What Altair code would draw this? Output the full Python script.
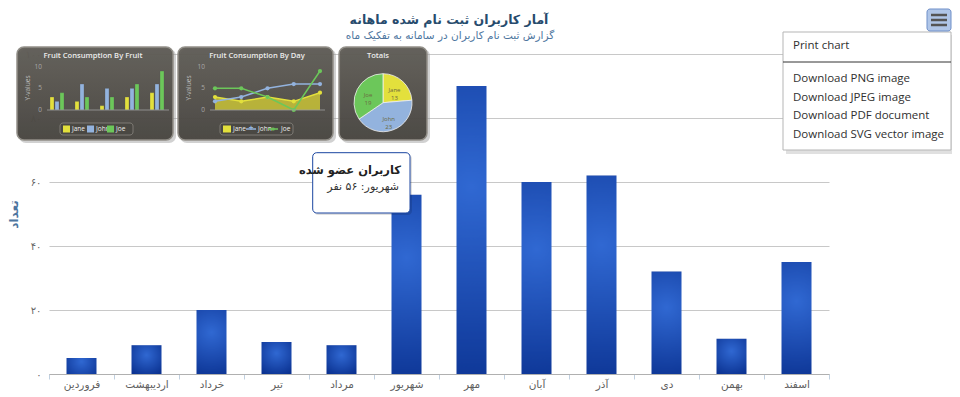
import altair as alt
import pandas as pd

# ---------------- data ----------------
months = ["فروردین", "اردیبهشت", "خرداد", "تیر", "مرداد", "شهریور",
          "مهر", "آبان", "آذر", "دی", "بهمن", "اسفند"]
counts = [5, 9, 20, 10, 9, 56, 90, 60, 62, 32, 11, 35]
y_ticks = [0, 20, 40, 60, 80, 100]
y_tick_labels = ["۰", "۲۰", "۴۰", "۶۰", "۸۰", "۱۰۰"]

title_text = "آمار کاربران ثبت نام شده ماهانه"
subtitle_text = "گزارش ثبت نام کاربران در سامانه به تفکیک ماه"
y_title = "تعداد"
tooltip_title = "کاربران عضو شده"
tooltip_unit = "نفر"
hover_index = 5
menu_items = ["Print chart", "Download PNG image", "Download JPEG image",
              "Download PDF document", "Download SVG vector image"]

# background picture (small fruit charts)
people = ["Jane", "John", "Joe"]
fruits = ["Apples", "Oranges", "Pears", "Bananas", "Plums"]
jane_fruit = [3, 2, 1, 3, 4]
john_fruit = [2, 6, 5, 5, 6]
joe_fruit = [4, 3, 3, 6, 9]
days = ["Mon", "Tue", "Wed", "Thu", "Fri"]
jane_day = [3, 2, 3, 2, 4]
john_day = [2, 3, 5, 6, 6]
joe_day = [5, 5, 3, 0, 9]
totals = [13, 23, 19]
mini_ticks = [0, 5, 10]
panel_titles = ["Fruit Consumption By Fruit", "Fruit Consumption By Day", "Totals"]
mini_axis_title = "Y-values"

FA = "DejaVu Sans"
C_JANE, C_JOHN, C_JOE = "#e3e03c", "#93b3de", "#6cc75a"


def to_fa(n):
    return "".join("۰۱۲۳۴۵۶۷۸۹"[int(c)] for c in str(n))


one = pd.DataFrame({"k": [0]})


def rect(x, x2, y, y2, **kw):
    return alt.Chart(one).mark_rect(**kw).encode(
        x=alt.value(x), x2=alt.value(x2), y=alt.value(y), y2=alt.value(y2))


def txt(s, x, y, **kw):
    return alt.Chart(one).mark_text(text=s, **kw).encode(x=alt.value(x), y=alt.value(y))


def rule(x, x2, y, y2, **kw):
    return alt.Chart(one).mark_rule(**kw).encode(
        x=alt.value(x), x2=alt.value(x2), y=alt.value(y), y2=alt.value(y2))


# ---------------- background panels ----------------
panel_grad = alt.LinearGradient(
    gradient="linear", x1=0, x2=0, y1=0, y2=1,
    stops=[alt.GradientStop(color="#5f5c56", offset=0),
           alt.GradientStop(color="#46433e", offset=1)])
panels = []
for (a, b) in [(-32, 124), (129, 284), (290, 378)]:
    panels.append(rect(a + 2, b + 3, -5, 89, fill="#9a9a9a", opacity=0.45, cornerRadius=7))
    panels.append(rect(a, b, -7, 86, fill=panel_grad, stroke="#8e8b84", strokeWidth=1.5,
                       cornerRadius=7, opacity=0.95))
for t, cx in zip(panel_titles, [44, 208, 329]):
    panels.append(txt(t, cx, 2, font="Open Sans", fontSize=7.6, fontWeight=600, color="#ececec"))

mini_y = alt.Scale(domain=[0, 10], range=[56, 12.7], nice=False, zero=True)
color_scale = alt.Scale(domain=people, range=[C_JANE, C_JOHN, C_JOE])

# mini bar chart
fruit_df = pd.DataFrame([{"fruit": f, "person": p, "v": v}
                         for p, vals in zip(people, [jane_fruit, john_fruit, joe_fruit])
                         for f, v in zip(fruits, vals)])
fruit_x = alt.Scale(domain=fruits, range=[-4.5, 120.5], paddingInner=0.44, paddingOuter=0.22)
mini_bars = alt.Chart(fruit_df).mark_bar(stroke="#555", strokeWidth=0.3).encode(
    x=alt.X("fruit:N", scale=fruit_x, axis=None, sort=fruits),
    xOffset=alt.XOffset("person:N", scale=alt.Scale(domain=people, paddingInner=0.2), sort=people),
    y=alt.Y("v:Q", scale=mini_y, axis=None),
    color=alt.Color("person:N", scale=color_scale, legend=None),
)
fruit_lbl = alt.Chart(pd.DataFrame({"fruit": fruits})).mark_text(
    font="Open Sans", fontSize=6.5, color="#c8c8c8").encode(
    x=alt.X("fruit:N", scale=fruit_x, axis=None, sort=fruits),
    y=alt.value(62))

# mini line chart
day_df = pd.DataFrame([{"day": d, "person": p, "v": v}
                       for p, vals in zip(people, [jane_day, john_day, joe_day])
                       for d, v in zip(days, vals)])
day_x = alt.Scale(type="point", domain=days, range=[166, 271], padding=0)
jane_area = alt.Chart(day_df[day_df.person == "Jane"]).mark_area(
    color="#c9c337", opacity=0.85).encode(
    x=alt.X("day:N", scale=day_x, axis=None, sort=days),
    y=alt.Y("v:Q", scale=mini_y, axis=None))
day_lines = alt.Chart(day_df).mark_line(strokeWidth=1.5, point=alt.OverlayMarkDef(size=18, filled=True)).encode(
    x=alt.X("day:N", scale=day_x, axis=None, sort=days),
    y=alt.Y("v:Q", scale=mini_y, axis=None),
    color=alt.Color("person:N", scale=color_scale, legend=None),
    detail="person:N")
day_lbl = alt.Chart(pd.DataFrame({"day": days})).mark_text(
    font="Open Sans", fontSize=6.5, color="#c8c8c8").encode(
    x=alt.X("day:N", scale=day_x, axis=None, sort=days),
    y=alt.value(62))

tick_df = pd.DataFrame({"t": mini_ticks, "lab": [str(t) for t in mini_ticks]})
mini_ticks1 = alt.Chart(tick_df).mark_text(align="right", font="Open Sans", fontSize=6.5, color="#a8a8a8").encode(
    y=alt.Y("t:Q", scale=mini_y, axis=None), x=alt.value(-7), text="lab:N")
mini_ticks2 = alt.Chart(tick_df).mark_text(align="right", font="Open Sans", fontSize=6.5, color="#a8a8a8").encode(
    y=alt.Y("t:Q", scale=mini_y, axis=None), x=alt.value(156), text="lab:N")

mini_axes = [
    rule(-2, 120, 56, 56, color="#a0a0a0", strokeWidth=0.8),
    rule(161, 276, 56, 56, color="#a0a0a0", strokeWidth=0.8),
    txt(mini_axis_title, -21, 34, angle=270, font="Open Sans", fontSize=6.5, color="#bdbdbd"),
    txt(mini_axis_title, 140, 34, angle=270, font="Open Sans", fontSize=6.5, color="#bdbdbd"),
]

# mini legends
legends = [
    rect(11, 84, 69, 81, fill="#4a4843", stroke="#8a8780", strokeWidth=0.8, cornerRadius=3),
    rect(171, 244, 69, 81, fill="#4a4843", stroke="#8a8780", strokeWidth=0.8, cornerRadius=3),
]
for (a, col, name, tx) in [(14, C_JANE, people[0], 23), (38, C_JOHN, people[1], 47), (58, C_JOE, people[2], 67)]:
    legends.append(rect(a, a + 7, 71.5, 78.5, fill=col))
    legends.append(txt(name, tx, 75, align="left", font="Open Sans", fontSize=6.5, color="#eeeeee"))
legends.append(rect(174, 182, 71.5, 78.5, fill=C_JANE))
legends.append(txt(people[0], 184, 75, align="left", font="Open Sans", fontSize=6.5, color="#eeeeee"))
legends.append(rule(197, 207, 75, 75, color=C_JOHN, strokeWidth=1.5))
legends.append(txt("+", 202, 75, font="Open Sans", fontSize=8, fontWeight="bold", color=C_JOHN))
legends.append(txt(people[1], 209, 75, align="left", font="Open Sans", fontSize=6.5, color="#eeeeee"))
legends.append(rule(219, 229, 75, 75, color=C_JOE, strokeWidth=1.5))
legends.append(alt.Chart(one).mark_point(filled=True, size=14, color=C_JOE).encode(x=alt.value(224), y=alt.value(75)))
legends.append(txt(people[2], 232, 75, align="left", font="Open Sans", fontSize=6.5, color="#eeeeee"))

# mini pie
pie_df = pd.DataFrame({"person": people, "v": totals, "o": [0, 1, 2],
                       "lab": [f"{p}\n{v}" for p, v in zip(people, totals)]})
pie = alt.Chart(pie_df).mark_arc(radius=29, stroke="#f0f0f0", strokeWidth=0.8).encode(
    theta=alt.Theta("v:Q", stack=True), order="o:Q",
    color=alt.Color("person:N", scale=color_scale, legend=None),
    x=alt.value(334), y=alt.value(48.7))
pie_lbl = alt.Chart(pie_df).mark_text(radius=17, lineBreak="\n", font="Open Sans", fontSize=6,
                                      color="#6b6a40").encode(
    theta=alt.Theta("v:Q", stack=True), order="o:Q", text="lab:N",
    x=alt.value(334), y=alt.value(48.7))

# ---------------- main chart ----------------
main_df = pd.DataFrame({"month": months, "count": counts})
bar_grad = alt.RadialGradient(
    gradient="radial", x1=0.5, y1=0.35, r1=0, x2=0.5, y2=0.35, r2=0.75,
    stops=[alt.GradientStop(color="#3068d2", offset=0),
           alt.GradientStop(color="#0a3190", offset=1)])

label_expr = " : ".join(f"datum.value == {v} ? '{l}'" for v, l in zip(y_ticks, y_tick_labels)) + " : ''"

bars = alt.Chart(main_df).mark_bar(width=30, fill=bar_grad).encode(
    x=alt.X("month:N", sort=months,
            scale=alt.Scale(domain=months, paddingInner=0, paddingOuter=0),
            axis=alt.Axis(title=None, labelAngle=0, tickBand="extent", labelFont=FA,
                          labelFontSize=10.5, labelColor="#606060", domainColor="#b0b0b0",
                          tickColor="#C0D0E0", tickSize=5, labelPadding=5,
                          labelBaseline="middle")),
    y=alt.Y("count:Q", scale=alt.Scale(domain=[0, 100], nice=False),
            axis=alt.Axis(values=y_ticks, labelExpr=label_expr, title=y_title,
                          grid=True, gridColor="#C8C8C8", domain=False, ticks=False,
                          labelFont=FA, labelFontSize=10, labelColor="#666666", labelPadding=8,
                          titleFont=FA, titleFontSize=12, titleFontWeight="bold",
                          titleColor="#4d759e", titleX=-36, titleY=160, titleAngle=270,
                          titleBaseline="middle", titleAlign="center")),
)

# ---------------- tooltip ----------------
tip_line = f"{months[hover_index]}: {to_fa(counts[hover_index])} {tooltip_unit}"
tooltip = [
    rect(265, 363, 100.5, 161, fill="#000000", opacity=0.12, cornerRadius=4),
    rect(263.7, 361, 98.7, 159, fill="#ffffff", stroke="#1a45a0", strokeWidth=1, cornerRadius=4),
    txt(tooltip_title, 352, 117, align="right", font=FA, fontSize=11.5, fontWeight="bold", color="#222222"),
    txt(tip_line, 350, 133, align="right", font=FA, fontSize=11, color="#333333"),
]

# ---------------- menu & button ----------------
menu = [
    rect(737, 906, -19, 100, fill="#000000", opacity=0.12),
    rect(734, 902, -22, 96, fill="#ffffff", stroke="#b5b5b5", strokeWidth=1),
    rule(734, 902, 8, 8, color="#333333", strokeWidth=1),
]
for item, yy in zip(menu_items, [-8, 25, 44, 62, 81]):
    menu.append(txt(item, 744, yy, align="left", font="Open Sans", fontSize=11.5, color="#303030"))
button = [
    rect(878, 902, -45, -23, fill="#b0c6e8", stroke="#6f8fc8", strokeWidth=1, cornerRadius=3),
    rule(882, 898, -39, -39, color="#555555", strokeWidth=2.5),
    rule(882, 898, -34, -34, color="#555555", strokeWidth=2.5),
    rule(882, 898, -29, -29, color="#555555", strokeWidth=2.5),
]

titles = [
    txt(title_text, 400, -34, font=FA, fontSize=12.5, fontWeight="bold", color="#274b6d"),
    txt(subtitle_text, 401, -18, font=FA, fontSize=10.5, color="#4d759e"),
]

layers = (panels + [mini_bars, fruit_lbl, jane_area, day_lines, day_lbl, mini_ticks1, mini_ticks2]
          + mini_axes + legends + [pie, pie_lbl, bars] + tooltip + menu + button + titles)

chart = alt.layer(*layers).resolve_scale(
    x="independent", y="independent", theta="independent"
).properties(
    width=780, height=320,
    autosize=alt.AutoSizeParams(type="none"),
    padding={"left": 41, "top": 46, "right": 123, "bottom": 20},
    background="#ffffff",
).configure_view(stroke=None)

chart.save("out.html", embed_options={"renderer": "svg", "actions": False})
